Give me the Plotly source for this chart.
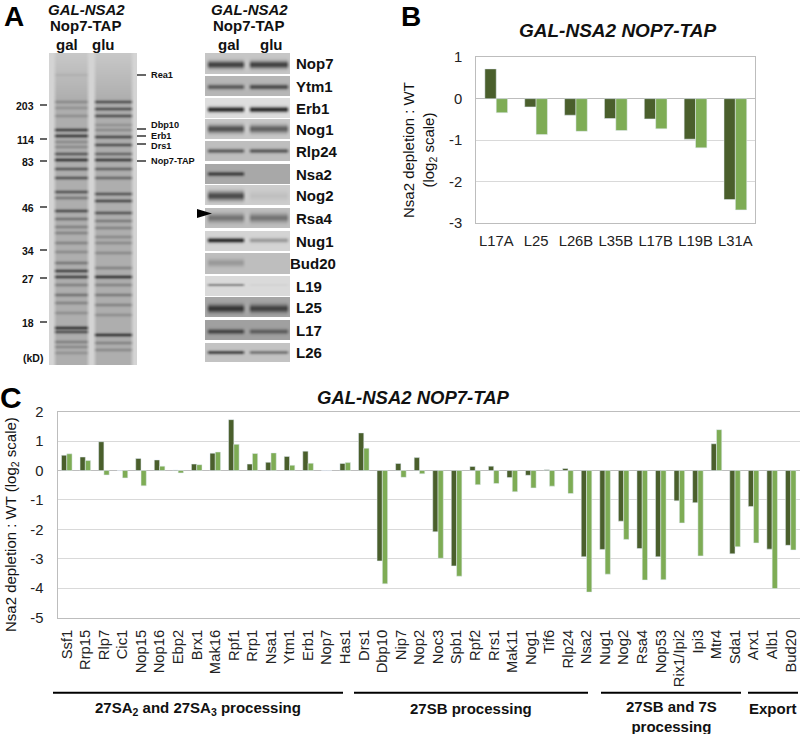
import numpy as np
import plotly.graph_objects as go

W, H = 800, 734
FONT = "Liberation Sans"
DARK = "#4a5f2c"
LIGHT = "#7eac55"
GRID = "#d9d9d9"
EDGE = "#bdbdbd"

# Panel C
c_cats = ["Ssf1","Rrp15","Rlp7","Cic1","Nop15","Nop16","Ebp2","Brx1","Mak16","Rpf1","Rrp1","Nsa1","Ytm1","Erb1","Nop7","Has1",
          "Drs1","Dbp10","Nip7","Nop2","Noc3","Spb1","Rpf2","Rrs1","Mak11","Nog1","Tif6","Rlp24","Nsa2",
          "Nug1","Nog2","Rsa4","Nop53","Rix1/Ipi2","Ipi3","Mtr4","Sda1","Arx1","Alb1","Bud20"]
c_dark = [.52,.46,.98,0,.41,.36,.02,.22,.59,1.73,.22,.28,.48,.66,0,.24,
          1.28,-3.07,.24,.44,-2.08,-3.24,.14,.15,-.24,-.16,.03,.07,-2.93,
          -2.68,-1.72,-2.65,-2.93,-1.03,-1.09,.91,-2.83,-1.22,-2.67,-2.54]
c_light = [.57,.34,-.15,-.25,-.52,.15,-.08,.20,.63,.89,.58,.60,.18,.25,0,.27,
           .76,-3.85,-.23,-.11,-2.98,-3.59,-.48,-.44,-.72,-.59,-.53,-.78,-4.13,
           -3.52,-2.34,-3.72,-3.71,-1.78,-2.90,1.39,-2.59,-2.46,-4.01,-2.70]
c_ticks = [2,1,0,-1,-2,-3,-4,-5]
c_tick_text = ["2","1","0","-1","-2","-3","-4","-5"]

# Panel B
b_cats = ["L17A","L25","L26B","L35B","L17B","L19B","L31A"]
b_dark = [.72,-.20,-.40,-.48,-.49,-.98,-2.44]
b_light = [-.34,-.87,-.79,-.77,-.73,-1.19,-2.69]
b_ticks = [1,0,-1,-2,-3]
b_tick_text = ["1","0","-1","-2","-3"]

# Panel A, stained gel: band (row, darkness)
gel_gal = [(75,.08),(102,.25),(108,.2),(116,.22),(130,.75),(136,.8),(142,.25),(147,.25),(154,.6),(160,.85),(169,.6),(178,.62),
           (192,.62),(198,.38),(211,.68),(219,.42),(227,.32),(233,.3),(243,.3),(252,.25),(263,.38),(271,.75),(277,.75),(285,.32),
           (295,.42),(303,.3),(313,.22),(328,.85),(332,.65),(342,.32),(347,.26),(353,.2)]
gel_glu = [(102,.65),(109,.65),(116,.65),(125,.2),(130,.25),(137,.7),(145,.65),(154,.5),(160,.8),(169,.52),(178,.48),
           (194,.62),(201,.7),(213,.62),(221,.36),(228,.3),(237,.25),(243,.25),(253,.25),(268,.3),(277,.85),(285,.3),
           (295,.36),(305,.3),(315,.22),(335,.85),(343,.3),(350,.25)]
kd_labels = ["203","114","83","46","34","27","18"]
kd_rows = [105,139,161,207,250,278,322]
gel_names = ["Rea1","Dbp10","Erb1","Drs1","Nop7-TAP"]
gel_name_rows = [75,125,135.5,146,161]
gel_tick_rows = [75,129,136,144,161]

# Panel A, immunoblots
blot_names = ["Nop7","Ytm1","Erb1","Nog1","Rlp24","Nsa2","Nog2","Rsa4","Nug1","Bud20","L19","L25","L17","L26"]
blot_top = [53,76,98,119,141,164,185,208,231,253,276,297,320,343]
blot_bot = [74,96,118,139,161,184,205,228,251,274,296,317,340,362]
blot_bg = [198,182,222,200,190,168,205,190,212,190,218,165,160,195]
blot_gal = [.85,.62,.95,.75,.6,.78,.8,.5,.95,.25,.38,.92,.75,.72]
blot_glu = [.85,.72,.95,.65,.62,0,.08,.5,.32,0,.03,.82,.55,.45]
blot_band = [.56,.55,.58,.5,.5,.5,.55,.5,.47,.47,.45,.58,.58,.5]
blot_sig = [2.6,1.8,1.9,2.8,1.6,1.6,3.2,3.0,1.7,2.6,1.1,2.8,1.8,1.4]

# Pixel image for the gel and blots
xs = np.arange(0, 400) + .5
ys = np.arange(0, 370) + .5
img = np.full((len(ys), len(xs)), 255.0)

def hat(x, a, b, s=1.5):
    return np.clip((x - a) / s + .5, 0, 1) * np.clip((b - x) / s + .5, 0, 1)

in_gel = hat(xs, 49, 137, .5)
lane1 = hat(xs, 55, 88, 4)
lane2 = hat(xs, 95, 132, 4)
for j, y in enumerate(ys):
    if 53 <= y <= 365:
        smear = 1 - .65 * np.clip((100 - y) / 45, 0, 1)
        v = 212 - 38 * smear * (lane1 + lane2)
        v = v - 115 * lane1 * sum(d * np.exp(-.5 * ((y - r) / 1.35) ** 2) for r, d in gel_gal)
        v = v - 115 * lane2 * sum(d * np.exp(-.5 * ((y - r) / 1.35) ** 2) for r, d in gel_glu)
        img[j] = img[j] * (1 - in_gel) + np.clip(v, 50, 255) * in_gel

in_blot = hat(xs, 205, 290, .5)
lane3 = hat(xs, 208, 244, 4)
lane4 = hat(xs, 250, 288, 4)
for t, b, bg, g, u, f, s in zip(blot_top, blot_bot, blot_bg, blot_gal, blot_glu, blot_band, blot_sig):
    c = t + f * (b - t)
    for j, y in enumerate(ys):
        if t <= y <= b:
            e = np.exp(-.5 * ((y - c) / s) ** 2)
            v = bg - (bg - 45) * e * (g * lane3 + u * lane4)
            img[j] = img[j] * (1 - in_blot) + v * in_blot

fig = go.Figure()
fig.add_trace(go.Heatmap(x=xs, y=ys, z=img, zmin=0, zmax=255, showscale=False, hoverinfo="skip",
                         colorscale=[[0, "#000000"], [1, "#ffffff"]], xaxis="x3", yaxis="y3"))
fig.add_trace(go.Bar(x=c_cats, y=c_dark, marker_color=DARK, xaxis="x", yaxis="y", offsetgroup="a"))
fig.add_trace(go.Bar(x=c_cats, y=c_light, marker_color=LIGHT, xaxis="x", yaxis="y", offsetgroup="b"))
fig.add_trace(go.Bar(x=b_cats, y=b_dark, marker_color=DARK, xaxis="x2", yaxis="y2", offsetgroup="c"))
fig.add_trace(go.Bar(x=b_cats, y=b_light, marker_color=LIGHT, xaxis="x2", yaxis="y2", offsetgroup="d"))

def dx(a, b): return [a / W, b / W]
def dy(top, bot): return [1 - bot / H, 1 - top / H]

def txt(x, y, s, size, bold=False, italic=False, anchor="center", angle=0, color="#111111"):
    if bold: s = f"<b>{s}</b>"
    if italic: s = f"<i>{s}</i>"
    return dict(x=x, y=y, xref="x3", yref="y3", text=s, showarrow=False, xanchor=anchor, yanchor="middle",
                textangle=angle, align="center", font=dict(family=FONT, size=size, color=color))

def seg(x0, x1, y, w=1.2):
    return dict(type="line", xref="x3", yref="y3", x0=x0, x1=x1, y0=y, y1=y, line=dict(color="#000000", width=w))

ann = [
    txt(14, 16, "A", 28, bold=True, color="#000000"),
    txt(411, 16, "B", 28, bold=True, color="#000000"),
    txt(11, 397, "C", 30, bold=True, color="#000000"),
    txt(617, 30, "GAL-NSA2 NOP7-TAP", 19, True, True),
    txt(413, 397, "GAL-NSA2 NOP7-TAP", 18.5, True, True),
    txt(11, 525, "Nsa2 depletion : WT (log<sub>2</sub> scale)", 15, angle=-90),
    txt(419, 150, "Nsa2 depletion : WT<br>(log<sub>2</sub> scale)", 15, angle=-90),
    txt(198, 708, "27SA<sub>2</sub> and 27SA<sub>3</sub> processing", 15, True),
    txt(471, 708, "27SB processing", 15, True),
    txt(671, 716, "27SB and 7S<br>processing", 15, True),
    txt(773, 708, "Export", 15, True),
    txt(86, 9, "GAL-NSA2", 15, True, True),
    txt(85, 25, "Nop7-TAP", 15, True),
    txt(67, 44, "gal", 15, True),
    txt(103, 44, "glu", 15, True),
    txt(249, 9, "GAL-NSA2", 15, True, True),
    txt(248, 25, "Nop7-TAP", 15, True),
    txt(229, 44, "gal", 15, True),
    txt(271, 44, "glu", 15, True),
    txt(33, 358, "(kD)", 10.5, True),
]
shapes = []
for s, r in zip(kd_labels, kd_rows):
    ann.append(txt(36, r + 1, s, 10.5, True, anchor="right"))
    shapes.append(seg(40, 47, r))
for s, r, t in zip(gel_names, gel_name_rows, gel_tick_rows):
    ann.append(txt(149, r, s, 9.2, True, anchor="left"))
    shapes.append(seg(137, 146, t))
for s, t, b in zip(blot_names, blot_top, blot_bot):
    ann.append(txt(288 if s == "Bud20" else 294, (t + b) / 2, s, 15, True, anchor="left"))
for a, b in [(53, 343), (354, 588), (601, 741), (748, 798)]:
    shapes.append(seg(a, b, 692.7, 2))
shapes.append(dict(type="path", xref="x3", yref="y3", fillcolor="#000000", line_width=0,
                   path="M 197 209 L 212 213.5 L 197 218 Z"))

common = dict(showline=True, linecolor=EDGE, linewidth=1.2, mirror=True)
tf = dict(family=FONT, size=14.8, color="#222222")
fig.update_layout(
    width=W, height=H, margin=dict(l=0, r=0, t=0, b=0, pad=0, autoexpand=False), autosize=False,
    paper_bgcolor="white", plot_bgcolor="rgba(0,0,0,0)", showlegend=False,
    barmode="group", bargap=.43, bargroupgap=0,
    annotations=ann, shapes=shapes,
    xaxis=dict(domain=dx(57.5, 800), type="category", anchor="y", tickangle=-90, ticks="", showgrid=False, ticklabelstandoff=5,
               tickfont=tf, **common),
    yaxis=dict(domain=dy(411.7, 617.7), anchor="x", range=[-5, 2], tickvals=c_ticks, ticktext=c_tick_text, gridcolor=GRID, gridwidth=1.2,
               zeroline=True, zerolinecolor=EDGE, zerolinewidth=1.2, ticks="", ticklabelstandoff=10, tickfont=tf, **common),
    xaxis2=dict(domain=dx(476.3, 755.3), type="category", anchor="y2", ticks="", showgrid=False, ticklabelstandoff=4, tickangle=0,
                tickfont=tf, **common),
    yaxis2=dict(domain=dy(57.3, 222.7), anchor="x2", range=[-3, 1], tickvals=b_ticks, ticktext=b_tick_text, gridcolor=GRID, gridwidth=1.2,
                zeroline=True, zerolinecolor=EDGE, zerolinewidth=1.2, ticks="", ticklabelstandoff=10, tickfont=tf, **common),
    xaxis3=dict(domain=[0, 1], range=[0, W], anchor="y3", visible=False),
    yaxis3=dict(domain=[0, 1], range=[H, 0], anchor="x3", visible=False),
)
fig.write_html("out.html", config={"displayModeBar": False}, post_script="document.body.style.margin='0';")
